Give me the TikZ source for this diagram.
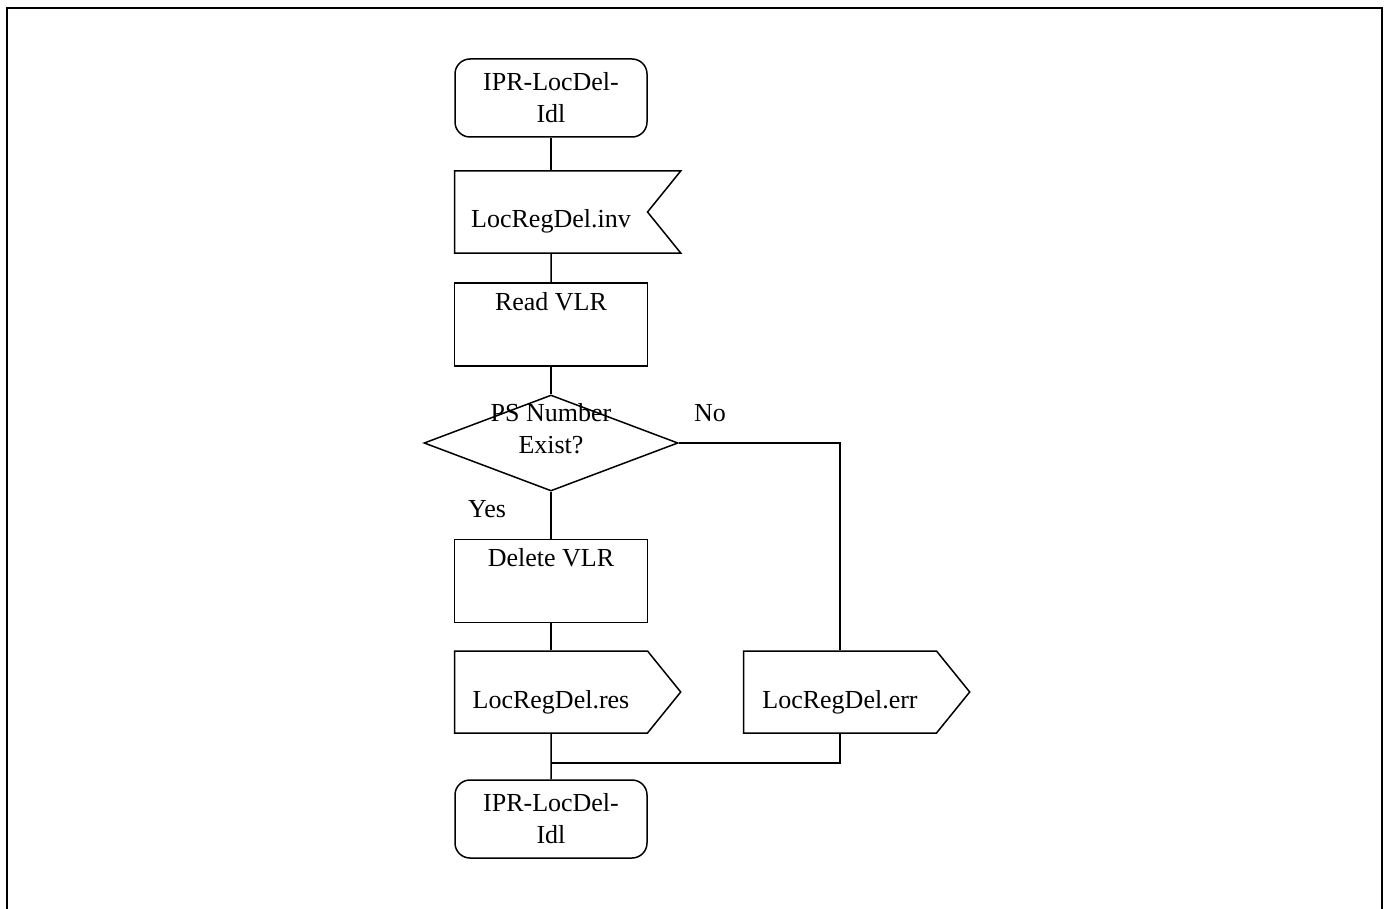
\documentclass[tikz,border=0pt]{standalone}
\usepackage{fontspec}
\setmainfont{Liberation Serif}
\usepackage{tikz}
\usetikzlibrary{shapes.geometric,shapes.symbols}

\begin{document}
\begin{tikzpicture}[x=1pt, y=-1pt, font=\fontsize{26}{32}\selectfont]

\tikzset{
  termbox/.style={rounded corners=15pt, draw, line width=1.5pt, minimum width=192pt,
                  minimum height=78pt, align=center, inner sep=2pt},
  procbox/.style={draw, line width=1.5pt, minimum width=193pt, inner xsep=0pt, inner ysep=4pt,
                  text height=23pt, text depth=52pt},
  sigbox/.style={signal, draw, line width=1.5pt, signal pointer angle=102, text width=161pt,
                 align=center, inner xsep=16pt, inner ysep=4pt, text height=53pt, text depth=21pt},
  decbox/.style={diamond, draw, line width=1.5pt, minimum width=254pt, minimum height=96pt, inner sep=0pt},
  link/.style={line width=1.5pt},
  branch/.style={inner sep=0pt}}

\useasboundingbox (0,0) rectangle (1388,909);

% page frame (open at the bottom)
\draw[line width=2pt] (7,909) -- (7,8) -- (1382,8) -- (1382,909);

% main column
\node[termbox] (start) at (551,98) {IPR-LocDel-\\Idl};
\node[sigbox, signal to=nowhere, signal from=east] (inv) at (551,212) {LocRegDel.inv};
\node[procbox] (read) at (551,324.5) {Read VLR};
\node[decbox] (dec) at (551,443) {};
\node[align=center] (dectxt) at (551,429) {PS Number\\Exist?};
\node[procbox] (del) at (551,581) {Delete VLR};
\node[sigbox, signal to=east] (res) at (551,692) {LocRegDel.res};
\node[termbox] (end) at (551,819) {IPR-LocDel-\\Idl};

% error branch
\node[sigbox, signal to=east] (err) at (840,692) {LocRegDel.err};
\coordinate (join) at (551,763);

% branch labels
\node[branch] (no) at (710,413) {No};
\node[branch] (yes) at (487,509) {Yes};

\draw[link] (start) -- (inv);
\draw[link] (inv) -- (read);
\draw[link] (read) -- (dec);
\draw[link] (dec) -- (del);
\draw[link] (del) -- (res);
\draw[link] (res) -- (end);
\draw[link] (dec) -| (err);
\draw[link] (err) |- (join);

\end{tikzpicture}
\end{document}
